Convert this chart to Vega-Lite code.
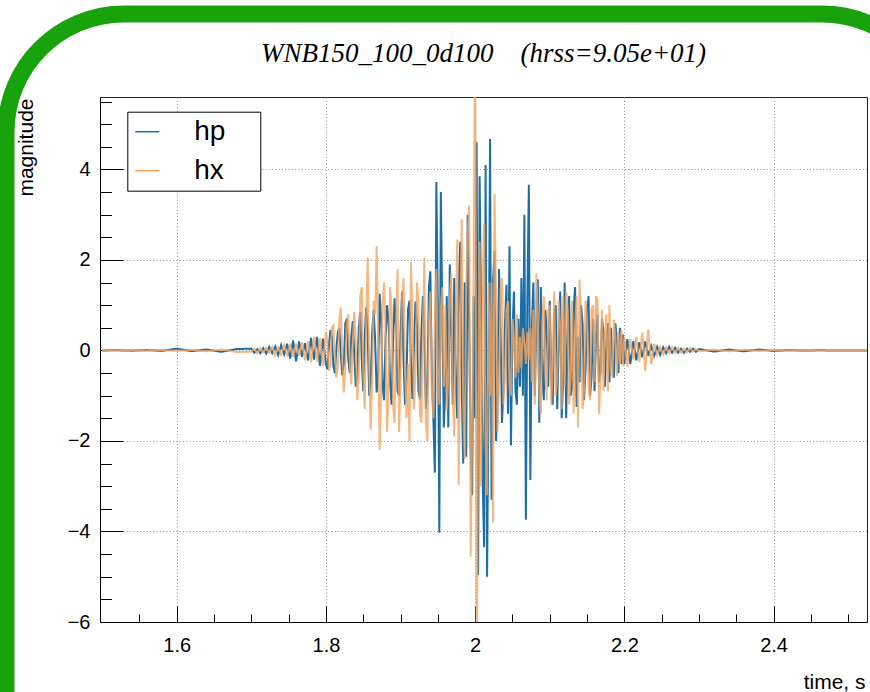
{
  "$schema": "https://vega.github.io/schema/vega-lite/v6.json",
  "width": 767,
  "height": 525,
  "autosize": {"type": "none"},
  "padding": {"left": 100, "top": 97, "right": 3, "bottom": 70},
  "background": "white",
  "title": {
    "text": "WNB150_100_0d100\u00a0\u00a0\u00a0\u00a0(hrss=9.05e+01)",
    "font": "Liberation Serif",
    "fontStyle": "italic",
    "fontWeight": "normal",
    "fontSize": 27,
    "color": "black",
    "anchor": "middle",
    "frame": "group",
    "baseline": "alphabetic",
    "offset": -83.5
  },
  "data": {
    "values": [
      {"t":1.50,"hp":0,"hx":0},{"t":1.52,"hp":0.004,"hx":-0.003},{"t":1.54,"hp":-0.005,"hx":0.006},{"t":1.56,"hp":0.008,"hx":-0.006},{"t":1.58,"hp":-0.01,"hx":0.008},{"t":1.60,"hp":0.04,"hx":-0.01},{"t":1.62,"hp":-0.015,"hx":0.012},{"t":1.64,"hp":0.02,"hx":-0.018},{"t":1.66,"hp":-0.03,"hx":0.02},{"t":1.68,"hp":0.03,"hx":-0.035},
      {"t":1.700,"hp":0.04,"hx":-0.03},{"t":1.704,"hp":-0.05,"hx":0.04},{"t":1.708,"hp":0.03,"hx":-0.06},{"t":1.712,"hp":-0.06,"hx":0.05},{"t":1.716,"hp":0.05,"hx":-0.04},{"t":1.720,"hp":-0.07,"hx":0.06},{"t":1.724,"hp":0.08,"hx":-0.05},{"t":1.728,"hp":-0.06,"hx":0.08},{"t":1.732,"hp":0.09,"hx":-0.1},{"t":1.736,"hp":-0.1,"hx":0.07},{"t":1.740,"hp":0.12,"hx":-0.09},{"t":1.744,"hp":-0.09,"hx":0.12},{"t":1.748,"hp":0.15,"hx":-0.1},{"t":1.752,"hp":-0.18,"hx":0.11},{"t":1.756,"hp":0.22,"hx":-0.14},{"t":1.760,"hp":-0.24,"hx":0.15},{"t":1.764,"hp":0.2,"hx":-0.12},{"t":1.768,"hp":-0.14,"hx":0.18},{"t":1.772,"hp":0.16,"hx":-0.22},{"t":1.776,"hp":-0.22,"hx":0.2},{"t":1.780,"hp":0.28,"hx":-0.26},{"t":1.784,"hp":-0.2,"hx":0.3},{"t":1.788,"hp":0.3,"hx":-0.24},{"t":1.792,"hp":-0.34,"hx":0.28},{"t":1.796,"hp":0.26,"hx":-0.35},
      {"t":1.800,"hp":-0.3,"hx":0.4},{"t":1.802,"hp":-0.42,"hx":0.2},{"t":1.804,"hp":0.1,"hx":-0.45},{"t":1.806,"hp":0.45,"hx":-0.3},{"t":1.808,"hp":0.3,"hx":0.5},{"t":1.810,"hp":-0.35,"hx":0.55},{"t":1.812,"hp":-0.5,"hx":-0.1},{"t":1.814,"hp":0.05,"hx":-0.6},{"t":1.816,"hp":0.4,"hx":-0.35},{"t":1.818,"hp":0.5,"hx":0.7},
      {"t":1.820,"hp":-0.1,"hx":0.95},{"t":1.822,"hp":-0.55,"hx":-0.2},{"t":1.824,"hp":-0.3,"hx":-0.93},{"t":1.826,"hp":0.6,"hx":-0.4},{"t":1.828,"hp":0.7,"hx":0.6},{"t":1.830,"hp":-0.2,"hx":0.8},{"t":1.832,"hp":-0.5,"hx":-0.3},{"t":1.834,"hp":0.3,"hx":-0.75},{"t":1.836,"hp":0.65,"hx":0.2},{"t":1.838,"hp":-0.1,"hx":0.85},
      {"t":1.840,"hp":-0.8,"hx":0.2},{"t":1.842,"hp":-0.6,"hx":-1.1},{"t":1.844,"hp":0.5,"hx":-0.6},{"t":1.846,"hp":0.85,"hx":1.2},{"t":1.848,"hp":-0.2,"hx":1.4},{"t":1.850,"hp":-0.9,"hx":-0.5},{"t":1.852,"hp":0.3,"hx":-1.3},{"t":1.854,"hp":0.95,"hx":0.6},{"t":1.856,"hp":0.4,"hx":2.05},{"t":1.858,"hp":-1.0,"hx":-0.4},
      {"t":1.860,"hp":-0.7,"hx":-1.75},{"t":1.862,"hp":0.4,"hx":-0.6},{"t":1.864,"hp":0.9,"hx":1.1},{"t":1.866,"hp":0.2,"hx":0.8},{"t":1.868,"hp":-0.93,"hx":2.3},{"t":1.870,"hp":-0.5,"hx":0.3},{"t":1.872,"hp":1.25,"hx":-2.2},{"t":1.874,"hp":0.7,"hx":-0.9},{"t":1.876,"hp":-0.8,"hx":1.0},{"t":1.878,"hp":-1.1,"hx":1.5},
      {"t":1.880,"hp":0.3,"hx":0.4},{"t":1.882,"hp":1.0,"hx":-1.8},{"t":1.884,"hp":0.6,"hx":-0.7},{"t":1.886,"hp":-0.7,"hx":1.4},{"t":1.888,"hp":-1.2,"hx":0.9},{"t":1.890,"hp":0.2,"hx":-1.2},{"t":1.892,"hp":1.15,"hx":-1.6},{"t":1.894,"hp":0.5,"hx":0.5},{"t":1.896,"hp":-0.9,"hx":1.8},{"t":1.898,"hp":-1.0,"hx":-1.8},
      {"t":1.900,"hp":0.4,"hx":-0.6},{"t":1.902,"hp":1.3,"hx":1.2},{"t":1.904,"hp":-0.2,"hx":1.6},{"t":1.906,"hp":-1.2,"hx":-0.4},{"t":1.908,"hp":-0.6,"hx":-1.5},{"t":1.910,"hp":0.9,"hx":-0.3},{"t":1.912,"hp":1.1,"hx":-2.0},{"t":1.914,"hp":-0.3,"hx":1.95},{"t":1.916,"hp":-1.08,"hx":0.7},{"t":1.918,"hp":0.1,"hx":-1.3},
      {"t":1.920,"hp":1.08,"hx":-0.5},{"t":1.922,"hp":0.6,"hx":1.5},{"t":1.924,"hp":-0.9,"hx":1.1},{"t":1.926,"hp":-1.08,"hx":-1.4},{"t":1.928,"hp":0.4,"hx":-1.6},{"t":1.930,"hp":1.2,"hx":0.4},{"t":1.932,"hp":0.3,"hx":2.05},{"t":1.934,"hp":-1.3,"hx":-1.6},{"t":1.936,"hp":-0.8,"hx":-2.0},{"t":1.938,"hp":1.4,"hx":0.6},
      {"t":1.940,"hp":1.75,"hx":1.3},{"t":1.942,"hp":-0.6,"hx":-0.9},{"t":1.944,"hp":-1.5,"hx":-1.5},{"t":1.946,"hp":-2.7,"hx":0.7},{"t":1.948,"hp":3.72,"hx":1.8},{"t":1.950,"hp":1.0,"hx":-0.4},{"t":1.952,"hp":-4.03,"hx":-1.2},{"t":1.954,"hp":3.5,"hx":0.9},{"t":1.956,"hp":0.8,"hx":1.4},{"t":1.958,"hp":-1.7,"hx":-0.8},
      {"t":1.960,"hp":-0.9,"hx":1.0},{"t":1.962,"hp":1.2,"hx":-1.3},{"t":1.964,"hp":-1.7,"hx":-0.6},{"t":1.966,"hp":1.9,"hx":1.2},{"t":1.968,"hp":0.5,"hx":1.7},{"t":1.970,"hp":-1.2,"hx":-1.1},{"t":1.972,"hp":1.6,"hx":-1.9},{"t":1.974,"hp":-0.7,"hx":0.8},{"t":1.976,"hp":-1.5,"hx":2.45},{"t":1.978,"hp":1.4,"hx":-2.97},
      {"t":1.980,"hp":2.4,"hx":0.5},{"t":1.982,"hp":-0.8,"hx":2.9},{"t":1.984,"hp":-2.5,"hx":-1.2},{"t":1.986,"hp":1.5,"hx":-2.4},{"t":1.988,"hp":-2.35,"hx":1.3},{"t":1.990,"hp":3.0,"hx":2.6},{"t":1.992,"hp":0.6,"hx":3.2},{"t":1.994,"hp":-2.2,"hx":-4.55},{"t":1.996,"hp":-3.2,"hx":-2.0},{"t":1.998,"hp":1.2,"hx":1.8},
      {"t":2.000,"hp":-1.5,"hx":7.5},{"t":2.002,"hp":4.6,"hx":-7.5},{"t":2.004,"hp":-4.96,"hx":-1.5},{"t":2.006,"hp":3.85,"hx":2.4},{"t":2.008,"hp":0.8,"hx":-3.0},{"t":2.010,"hp":-2.8,"hx":1.2},{"t":2.012,"hp":-4.35,"hx":2.8},{"t":2.014,"hp":4.1,"hx":-2.0},{"t":2.016,"hp":-5.0,"hx":-3.2},{"t":2.018,"hp":-1.0,"hx":1.5},
      {"t":2.020,"hp":4.67,"hx":-1.0},{"t":2.022,"hp":-3.3,"hx":1.5},{"t":2.024,"hp":1.5,"hx":-3.8},{"t":2.026,"hp":2.2,"hx":3.45},{"t":2.028,"hp":-2.0,"hx":1.2},{"t":2.030,"hp":-1.2,"hx":-1.8},{"t":2.032,"hp":1.8,"hx":-0.7},{"t":2.034,"hp":0.5,"hx":1.3},{"t":2.036,"hp":-1.6,"hx":1.6},{"t":2.038,"hp":-0.8,"hx":-1.2},
      {"t":2.040,"hp":0.6,"hx":-0.6},{"t":2.042,"hp":1.45,"hx":0.9},{"t":2.044,"hp":-1.4,"hx":1.1},{"t":2.046,"hp":2.3,"hx":-0.8},{"t":2.048,"hp":-2.1,"hx":-1.0},{"t":2.050,"hp":0.4,"hx":0.7},{"t":2.052,"hp":1.3,"hx":0.3},{"t":2.054,"hp":-0.9,"hx":-0.6},{"t":2.056,"hp":-1.2,"hx":0.8},{"t":2.058,"hp":0.7,"hx":-0.5},
      {"t":2.060,"hp":-0.8,"hx":0.3},{"t":2.062,"hp":1.6,"hx":-0.4},{"t":2.064,"hp":-1.0,"hx":0.5},{"t":2.066,"hp":3.0,"hx":0.2},{"t":2.068,"hp":-3.74,"hx":-0.3},{"t":2.070,"hp":1.2,"hx":0.4},{"t":2.072,"hp":3.66,"hx":-0.2},{"t":2.074,"hp":-2.86,"hx":0.5},{"t":2.076,"hp":0.5,"hx":-0.7},{"t":2.078,"hp":1.5,"hx":0.9},
      {"t":2.080,"hp":-1.0,"hx":-1.2},{"t":2.082,"hp":0.6,"hx":1.7},{"t":2.084,"hp":1.57,"hx":0.8},{"t":2.086,"hp":-1.6,"hx":-1.0},{"t":2.088,"hp":1.4,"hx":-1.4},{"t":2.090,"hp":-0.5,"hx":0.6},{"t":2.092,"hp":-1.1,"hx":1.2},{"t":2.094,"hp":0.9,"hx":-0.5},{"t":2.096,"hp":0.4,"hx":-1.1},{"t":2.098,"hp":-0.8,"hx":0.9},
      {"t":2.100,"hp":1.1,"hx":1.0},{"t":2.102,"hp":-0.6,"hx":-1.2},{"t":2.104,"hp":-1.2,"hx":-0.3},{"t":2.106,"hp":0.8,"hx":1.3},{"t":2.108,"hp":1.0,"hx":-1.0},{"t":2.110,"hp":-1.3,"hx":-0.6},{"t":2.112,"hp":0.2,"hx":1.1},{"t":2.114,"hp":1.3,"hx":0.5},{"t":2.116,"hp":-1.5,"hx":-1.3},{"t":2.118,"hp":-0.6,"hx":1.2},
      {"t":2.120,"hp":1.5,"hx":-0.8},{"t":2.122,"hp":-1.5,"hx":1.3},{"t":2.124,"hp":0.4,"hx":0.9},{"t":2.126,"hp":1.2,"hx":-1.2},{"t":2.128,"hp":-1.0,"hx":-0.6},{"t":2.130,"hp":-0.8,"hx":1.1},{"t":2.132,"hp":0.9,"hx":-1.4},{"t":2.134,"hp":1.4,"hx":0.5},{"t":2.136,"hp":-1.25,"hx":1.2},{"t":2.138,"hp":0.3,"hx":-1.7},
      {"t":2.140,"hp":-0.7,"hx":1.57},{"t":2.142,"hp":1.0,"hx":0.5},{"t":2.144,"hp":0.6,"hx":-1.3},{"t":2.146,"hp":-1.1,"hx":-0.9},{"t":2.148,"hp":-0.4,"hx":1.1},{"t":2.150,"hp":0.8,"hx":0.7},{"t":2.152,"hp":1.2,"hx":-0.8},{"t":2.154,"hp":-1.0,"hx":-1.1},{"t":2.156,"hp":-0.6,"hx":0.9},{"t":2.158,"hp":0.7,"hx":1.0},
      {"t":2.160,"hp":-0.9,"hx":-0.7},{"t":2.162,"hp":0.3,"hx":1.2},{"t":2.164,"hp":0.8,"hx":1.1},{"t":2.166,"hp":-0.7,"hx":-1.4},{"t":2.168,"hp":-0.5,"hx":-0.6},{"t":2.170,"hp":0.7,"hx":0.9},{"t":2.172,"hp":0.4,"hx":-0.9},{"t":2.174,"hp":-0.8,"hx":0.4},{"t":2.176,"hp":0.2,"hx":0.8},{"t":2.178,"hp":0.6,"hx":-0.9},
      {"t":2.180,"hp":-0.7,"hx":1.0},{"t":2.182,"hp":0.5,"hx":-0.4},{"t":2.184,"hp":-0.3,"hx":-0.6},{"t":2.186,"hp":-0.6,"hx":0.68},{"t":2.188,"hp":0.6,"hx":0.3},{"t":2.190,"hp":0.2,"hx":-0.57},{"t":2.192,"hp":-0.5,"hx":0.4},{"t":2.194,"hp":0.5,"hx":-0.3},{"t":2.196,"hp":-0.3,"hx":0.45},{"t":2.198,"hp":0.35,"hx":-0.35},
      {"t":2.200,"hp":-0.3,"hx":0.3},{"t":2.204,"hp":0.25,"hx":-0.35},{"t":2.208,"hp":-0.3,"hx":0.25},{"t":2.212,"hp":0.2,"hx":-0.2},{"t":2.216,"hp":-0.22,"hx":0.3},{"t":2.220,"hp":0.18,"hx":-0.25},{"t":2.224,"hp":-0.15,"hx":0.4},{"t":2.228,"hp":0.2,"hx":-0.46},{"t":2.232,"hp":-0.12,"hx":0.46},{"t":2.236,"hp":0.1,"hx":-0.3},{"t":2.240,"hp":-0.12,"hx":0.15},{"t":2.244,"hp":0.08,"hx":-0.1},{"t":2.248,"hp":-0.1,"hx":0.08},{"t":2.252,"hp":0.07,"hx":-0.09},{"t":2.256,"hp":-0.06,"hx":0.07},{"t":2.260,"hp":0.08,"hx":-0.06},{"t":2.264,"hp":-0.05,"hx":0.07},{"t":2.268,"hp":0.06,"hx":-0.05},{"t":2.272,"hp":-0.05,"hx":0.06},{"t":2.276,"hp":0.04,"hx":-0.05},{"t":2.280,"hp":-0.05,"hx":0.04},{"t":2.284,"hp":0.04,"hx":-0.04},{"t":2.288,"hp":-0.03,"hx":0.05},{"t":2.292,"hp":0.04,"hx":-0.03},{"t":2.296,"hp":-0.03,"hx":0.03},
      {"t":2.30,"hp":0.03,"hx":-0.02},{"t":2.32,"hp":-0.025,"hx":0.02},{"t":2.34,"hp":0.02,"hx":-0.02},{"t":2.36,"hp":-0.02,"hx":0.015},{"t":2.38,"hp":0.02,"hx":-0.01},{"t":2.40,"hp":-0.01,"hx":0.008},{"t":2.42,"hp":0.006,"hx":-0.005},{"t":2.44,"hp":-0.004,"hx":0.004},{"t":2.46,"hp":0.003,"hx":-0.002},{"t":2.48,"hp":0,"hx":0},{"t":2.50,"hp":0,"hx":0},{"t":2.526,"hp":0,"hx":0}
    ]
  },
  "transform": [{"fold": ["hp", "hx"], "as": ["series", "value"]}],
  "mark": {"type": "line", "strokeWidth": 2, "clip": true},
  "encoding": {
    "x": {
      "field": "t",
      "type": "quantitative",
      "scale": {"domain": [1.4972, 2.5252], "nice": false, "zero": false},
      "axis": {
        "values": [1.55,1.6,1.65,1.7,1.75,1.8,1.85,1.9,1.95,2,2.05,2.1,2.15,2.2,2.25,2.3,2.35,2.4,2.45,2.5],
        "format": "~g",
        "labelExpr": "round(datum.value*100) % 20 == 0 ? datum.label : ''",
        "tickSize": {"condition": {"test": "round(datum.value*100) % 20 == 0", "value": -16}, "value": -8},
        "gridOpacity": {"condition": {"test": "round(datum.value*100) % 20 == 0", "value": 1}, "value": 0},
        "labelPadding": 29.5,
        "title": "time, s",
        "titleAnchor": "end",
        "titleAlign": "right",
        "titleX": 765,
        "titleY": 66,
        "titleBaseline": "alphabetic"
      }
    },
    "y": {
      "field": "value",
      "type": "quantitative",
      "scale": {"domain": [-6, 5.6], "nice": false, "zero": false},
      "axis": {
        "values": [-6,-5.5,-5,-4.5,-4,-3.5,-3,-2.5,-2,-1.5,-1,-0.5,0,0.5,1,1.5,2,2.5,3,3.5,4,4.5,5,5.5],
        "format": "~g",
        "labelExpr": "datum.value % 2 == 0 ? datum.label : ''",
        "tickSize": {"condition": {"test": "datum.value % 2 == 0", "value": -23}, "value": -11.5},
        "gridOpacity": {"condition": {"test": "datum.value % 2 == 0", "value": 1}, "value": 0},
        "labelPadding": 33,
        "title": "magnitude",
        "titleAnchor": "end",
        "titleAlign": "right",
        "titleAngle": -90,
        "titleX": -68,
        "titleY": 1,
        "titleBaseline": "alphabetic"
      }
    },
    "color": {
      "field": "series",
      "type": "nominal",
      "scale": {"domain": ["hp", "hx"], "range": ["#1c6ea4", "#f4a460"]},
      "legend": {
        "orient": "none",
        "legendX": 27.3,
        "legendY": 14.7,
        "title": null,
        "padding": 6,
        "strokeColor": "black",
        "fillColor": "white",
        "symbolType": "stroke",
        "symbolSize": 576,
        "symbolStrokeWidth": 1.5,
        "labelFont": "Liberation Sans",
        "labelFontSize": 28,
        "labelColor": "black",
        "labelOffset": 33,
        "rowPadding": 11,
        "labelExpr": "datum.label + '\u00a0\u2800'",
        "encode": {"legend": {"update": {"strokeWidth": {"value": 1.5}}}}
      }
    },
    "opacity": {"condition": {"test": "datum.series == 'hx'", "value": 0.8}, "value": 1},
    "strokeDash": {
      "datum": "frame",
      "scale": {"range": [[1, 0]]},
      "legend": {
        "orient": "none",
        "legendX": -94,
        "legendY": -83,
        "padding": 460,
        "strokeColor": "#18a20c",
        "cornerRadius": 118,
        "title": null,
        "labelExpr": "''",
        "symbolOpacity": 0,
        "symbolSize": 1,
        "encode": {"legend": {"update": {"strokeWidth": {"value": 17}}}}
      }
    }
  },
  "config": {
    "view": {"stroke": "#222", "strokeWidth": 1},
    "axis": {
      "grid": true,
      "gridColor": "#8a8a8a",
      "gridDash": [1, 2.3],
      "gridWidth": 1,
      "domainColor": "black",
      "domainWidth": 1,
      "tickColor": "black",
      "tickWidth": 1,
      "labelFont": "Liberation Sans",
      "labelFontSize": 20,
      "labelColor": "black",
      "labelFlush": false,
      "labelOverlap": false,
      "titleFont": "Liberation Sans",
      "titleFontSize": 21,
      "titleFontWeight": "normal",
      "titleColor": "black"
    }
  }
}
